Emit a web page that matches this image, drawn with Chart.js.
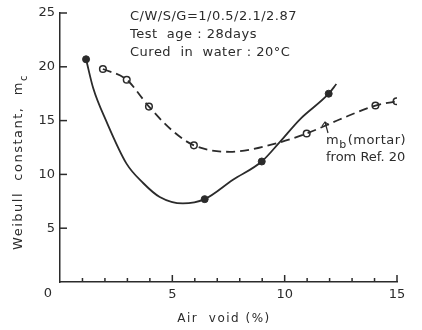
<!DOCTYPE html>
<html>
<head>
<meta charset="utf-8">
<script src="https://cdn.jsdelivr.net/npm/chart.js@4"></script>
<style>
  html, body { margin: 0; padding: 0; background: #fff; }
  #c { display: block; }
</style>
</head>
<body>
<canvas id="c" width="422" height="330"></canvas>
<script>
// ---- Data ----
// Solid curve (concrete, m_c)
const solidCurveX = [1.16, 1.48, 2.07, 2.96, 3.7, 4.44, 5.47, 6.44, 7.7, 8.98, 9.78, 10.67, 11.96, 12.3];
const solidCurveY = [20.7, 18.0, 14.9, 11.0, 9.2, 7.9, 7.3, 7.7, 9.5, 11.2, 13.0, 15.1, 17.5, 18.4];
// Solid (filled) markers
const solidPtsX = [1.16, 6.44, 8.98, 11.96];
const solidPtsY = [20.7, 7.7, 11.2, 17.5];
// Dashed curve (mortar, m_b from Ref. 20)
const dashCurveX = [1.91, 2.97, 3.96, 4.98, 5.96, 7.56, 9.64, 10.98, 12.44, 14.04, 14.98];
const dashCurveY = [19.8, 18.8, 16.3, 14.1, 12.7, 12.1, 12.9, 13.8, 15.1, 16.4, 16.8];
// Open markers
const openPtsX = [1.91, 2.97, 3.96, 5.96, 10.98, 14.04, 14.98];
const openPtsY = [19.8, 18.8, 16.3, 12.7, 13.8, 16.4, 16.8];
// Axis ticks / labels
const xLabelTicks = [5, 10, 15];
const yLabelTicks = [5, 10, 15, 20, 25];
const xTitle = 'Air  void (%)';
const yTitle = 'Weibull  constant,  m';
const yTitleSub = 'c';
const noteLines = ['C/W/S/G=1/0.5/2.1/2.87', 'Test  age : 28days', 'Cured  in  water : 20°C'];

const pts = (xs, ys) => xs.map((x, i) => ({x: x, y: ys[i]}));
const INK = '#2b2b2b';
const FONT = '"DejaVu Sans", sans-serif';

const decor = {
  id: 'decor',
  afterDraw(chart) {
    const ctx = chart.ctx;
    const xs = chart.scales.x, ys = chart.scales.y;
    const a = chart.chartArea;
    ctx.save();
    ctx.strokeStyle = INK;
    ctx.lineWidth = 1.5;
    // inward ticks on y
    yLabelTicks.forEach(v => {
      const py = ys.getPixelForValue(v);
      ctx.beginPath(); ctx.moveTo(a.left, py); ctx.lineTo(a.left + 7, py); ctx.stroke();
    });
    // inward ticks on x
    for (let v = 1; v <= 15; v++) {
      const px = xs.getPixelForValue(v);
      const len = (v % 5 === 0) ? 7 : 4;
      ctx.beginPath(); ctx.moveTo(px, a.bottom); ctx.lineTo(px, a.bottom - len); ctx.stroke();
    }
    ctx.fillStyle = INK;
    ctx.font = '13px ' + FONT;
    ctx.textBaseline = 'middle';
    ctx.textAlign = 'center';
    // corner zero
    ctx.fillText('0', xs.getPixelForValue(0) - 12, a.bottom + 12);
    // x title
    ctx.letterSpacing = '1.5px';
    ctx.font = '12px ' + FONT;
    ctx.fillText(xTitle, 224, 319);
    // y title
    ctx.save();
    ctx.translate(19, 162);
    ctx.rotate(-Math.PI / 2);
    ctx.textAlign = 'left';
    ctx.font = '13px ' + FONT;
    ctx.letterSpacing = '1.5px';
    const w = ctx.measureText(yTitle).width;
    ctx.font = '10px ' + FONT;
    const wc = ctx.measureText(yTitleSub).width;
    const start = -(w + wc) / 2;
    ctx.font = '13px ' + FONT;
    ctx.fillText(yTitle, start, 0);
    ctx.font = '10px ' + FONT;
    ctx.fillText(yTitleSub, start + w, 5);
    ctx.restore();
    // notes
    ctx.font = '13px ' + FONT;
    ctx.letterSpacing = '0.5px';
    ctx.textAlign = 'left';
    ctx.fillText(noteLines[0], 130, 17);
    ctx.fillText(noteLines[1], 130, 35);
    ctx.fillText(noteLines[2], 130, 53);
    // m_b(mortar) annotation
    ctx.fillText('m', 326, 141);
    const mw = ctx.measureText('m').width;
    ctx.font = '11px ' + FONT;
    ctx.fillText('b', 326 + mw, 145);
    const bw = ctx.measureText('b').width;
    ctx.font = '13px ' + FONT;
    ctx.fillText('(mortar)', 326 + mw + bw + 1, 141);
    ctx.letterSpacing = '0px';
    ctx.fillText('from Ref. 20', 326, 158);
    // small arrow
    ctx.lineWidth = 1.2;
    ctx.beginPath(); ctx.moveTo(328, 133); ctx.lineTo(325, 122); ctx.stroke();
    ctx.beginPath(); ctx.moveTo(322, 126); ctx.lineTo(325, 122); ctx.lineTo(329, 125); ctx.stroke();
    ctx.restore();
  }
};

new Chart(document.getElementById('c'), {
  type: 'scatter',
  data: {
    datasets: [
      { type: 'line', data: pts(solidCurveX, solidCurveY), borderColor: INK, borderWidth: 1.8,
        pointRadius: 0, cubicInterpolationMode: 'monotone', fill: false },
      { type: 'line', data: pts(dashCurveX, dashCurveY), borderColor: INK, borderWidth: 1.8,
        borderDash: [9, 5], pointRadius: 0, cubicInterpolationMode: 'monotone', fill: false },
      { data: pts(solidPtsX, solidPtsY), backgroundColor: INK, borderColor: INK,
        pointRadius: 3.5, borderWidth: 1 },
      { data: pts(openPtsX, openPtsY), backgroundColor: '#fff', borderColor: INK,
        pointRadius: 3.3, borderWidth: 1.5 }
    ]
  },
  options: {
    responsive: false,
    animation: false,
    events: [],
    layout: { padding: { top: 13, right: 25, left: 0, bottom: 0 } },
    plugins: { legend: { display: false }, tooltip: { enabled: false } },
    scales: {
      x: {
        type: 'linear', min: 0, max: 15,
        afterFit: s => { s.height = 48; },
        grid: { display: false, drawTicks: false },
        border: { display: true, color: INK, width: 1.5 },
        ticks: {
          stepSize: 1, padding: 5, color: INK, maxRotation: 0, autoSkip: false,
          font: { family: FONT, size: 13 },
          callback: v => xLabelTicks.includes(v) ? String(v) : ''
        }
      },
      y: {
        type: 'linear', min: 0, max: 25,
        afterFit: s => { s.width = 60; },
        grid: { display: false, drawTicks: false },
        border: { display: true, color: INK, width: 1.5 },
        ticks: {
          stepSize: 5, padding: 5, color: INK,
          font: { family: FONT, size: 13 },
          callback: v => yLabelTicks.includes(v) ? String(v) : ''
        }
      }
    }
  },
  plugins: [decor]
});
</script>
</body>
</html>
